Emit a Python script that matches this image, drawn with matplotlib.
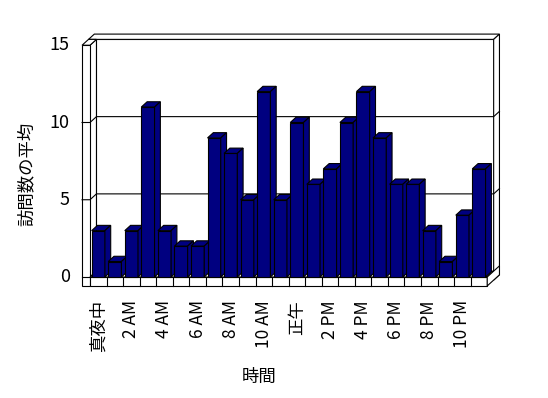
import matplotlib
matplotlib.use("Agg")
import matplotlib.pyplot as plt
from matplotlib.patches import Polygon

plt.rcParams['font.family'] = ['Noto Sans CJK JP', 'DejaVu Sans']

# Data
hours = ["真夜中", "1 AM", "2 AM", "3 AM", "4 AM", "5 AM", "6 AM", "7 AM",
         "8 AM", "9 AM", "10 AM", "11 AM", "正午", "1 PM", "2 PM", "3 PM",
         "4 PM", "5 PM", "6 PM", "7 PM", "8 PM", "9 PM", "10 PM", "11 PM"]
visits = [3, 1, 3, 11, 3, 2, 2, 9, 8, 5, 12, 5,
          10, 6, 7, 10, 12, 9, 6, 6, 3, 1, 4, 7]
y_ticks = [0, 5, 10, 15]
x_title = "時間"
y_title = "訪問数の平均"

navy = "#000080"
lw = 0.8
n = len(visits)
ymax = 15

# oblique projection: depth offset in category / value units
DX, DY = 0.39, 0.38
tw = 0.48     # left wall thickness (categories)
ft = 0.58     # floor thickness (values)
t = 0.9       # back wall thickness (depth units)
x0, x1 = -0.5, n - 0.5


def P(x, d, v):
    return (x + d * DX, v + d * DY)


fig = plt.figure(figsize=(5.48, 3.98), dpi=100)
ax = fig.add_axes([0, 0, 1, 1])
ax.set_xlim(-90 / 16.55 - 0.5, (548 - 90) / 16.55 - 0.5)
ax.set_ylim((277 - 398) / 15.45, 277 / 15.45)
ax.axis('off')


def face(pts, fc="white", z=1):
    ax.add_patch(Polygon(pts, closed=True, facecolor=fc, edgecolor="black",
                         linewidth=lw, zorder=z, joinstyle="miter"))


# back wall inner face, top, right side
face([P(x0, 1, 0), P(x1, 1, 0), P(x1, 1, ymax), P(x0, 1, ymax)])
face([P(x0 - tw, 1, ymax), P(x1, 1, ymax), P(x1, 1 + t, ymax), P(x0 - tw, 1 + t, ymax)])
face([P(x1, 1, -ft), P(x1, 1 + t, -ft), P(x1, 1 + t, ymax), P(x1, 1, ymax)])
# left wall inner face, top, front
face([P(x0, 0, 0), P(x0, 1, 0), P(x0, 1, ymax), P(x0, 0, ymax)])
face([P(x0 - tw, 0, ymax), P(x0, 0, ymax), P(x0, 1, ymax), P(x0 - tw, 1, ymax)])
face([P(x0 - tw, 0, -ft), P(x0, 0, -ft), P(x0, 0, ymax), P(x0 - tw, 0, ymax)])
# floor top, front, right side
face([P(x0, 0, 0), P(x1, 0, 0), P(x1, 1, 0), P(x0, 1, 0)])
face([P(x0, 0, -ft), P(x1, 0, -ft), P(x1, 0, 0), P(x0, 0, 0)])
face([P(x1, 0, -ft), P(x1, 1 + t, -ft), P(x1, 1 + t, 0), P(x1, 0, 0)])

# category dividers on the floor front
for i in range(1, n):
    ax.plot([i - 0.5, i - 0.5], [-ft, 0], color="black", lw=lw, zorder=2)

# gridlines and ticks
for v in y_ticks:
    a, b, c, d = P(x0 - tw, 0, v), P(x0, 0, v), P(x0, 1, v), P(x1, 1, v)
    e = P(x1, 1 + t, v)
    if 0 < v < ymax:
        ax.plot([a[0], b[0], c[0], d[0], e[0]], [a[1], b[1], c[1], d[1], e[1]],
                color="black", lw=lw, zorder=2)
    elif v == 0:
        ax.plot([a[0], b[0]], [a[1], b[1]], color="black", lw=lw, zorder=2)
    ax.text(x0 - tw - 0.75, v, str(v), ha="right", va="center", fontsize=13)

# bars
bw = 0.4
bd = 0.9
for i, v in enumerate(visits):
    z = 3 + i * 0.01
    face([(i - bw, 0), (i + bw, 0), (i + bw, v), (i - bw, v)], navy, z)
    face([(i - bw, v), (i + bw, v), P(i + bw, bd, v), P(i - bw, bd, v)], navy, z)
    face([(i + bw, 0), P(i + bw, bd, 0), P(i + bw, bd, v), (i + bw, v)], navy, z)

# category labels
for i, lab in enumerate(hours):
    if i % 2 == 0:
        ax.text(i, -1.5, lab, rotation=90, ha="center", va="top", fontsize=12.5)

ax.text(9.7, -6.5, x_title, ha="center", va="center", fontsize=12.5)
ax.text(-4.35, 6.7, y_title, rotation=90, ha="center", va="center", fontsize=12.5)

fig.savefig("out.png", dpi=100)
